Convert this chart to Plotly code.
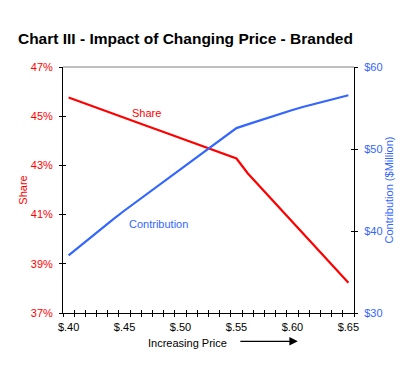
import plotly.graph_objects as go

price = [0.40, 0.41, 0.42, 0.43, 0.44, 0.45, 0.46, 0.47, 0.48, 0.49, 0.50, 0.51, 0.52,
         0.53, 0.54, 0.55, 0.56, 0.57, 0.58, 0.59, 0.60, 0.61, 0.62, 0.63, 0.64, 0.65]
share = [45.76, 45.59, 45.43, 45.26, 45.10, 44.93, 44.77, 44.60, 44.44, 44.27, 44.11, 43.94, 43.78,
         43.61, 43.45, 43.28, 42.68, 42.19, 41.69, 41.20, 40.70, 40.21, 39.71, 39.22, 38.72, 38.23]
contribution = [37.04, 38.15, 39.30, 40.40, 41.45, 42.50, 43.50, 44.50, 45.55, 46.55, 47.55, 48.55, 49.55,
                50.55, 51.55, 52.55, 53.00, 53.45, 53.90, 54.35, 54.75, 55.15, 55.50, 55.85, 56.20, 56.55]

x_label_vals = [0.40, 0.45, 0.50, 0.55, 0.60, 0.65]
x_label_text = ["$.40", "$.45", "$.50", "$.55", "$.60", "$.65"]
x_tick_vals = [round(0.395 + 0.01 * k, 3) for k in range(27)]
share_ticks = [37, 39, 41, 43, 45, 47]
share_text = ["37%", "39%", "41%", "43%", "45%", "47%"]
contrib_ticks = [30, 40, 50, 60]
contrib_text = ["$30", "$40", "$50", "$60"]

RED = "#FF0000"
BLUE = "#3366FF"
FONT = "Liberation Sans, Arial, sans-serif"
XR = [0.395, 0.655]

fig = go.Figure()
fig.add_trace(go.Scatter(x=price, y=share, mode="lines", line=dict(color=RED, width=2.2),
                         xaxis="x", yaxis="y", showlegend=False, hoverinfo="skip"))
fig.add_trace(go.Scatter(x=price, y=contribution, mode="lines", line=dict(color=BLUE, width=2.2),
                         xaxis="x", yaxis="y2", showlegend=False, hoverinfo="skip"))
# dummy traces to hold tick-only overlay axes
for xa, ya in [("x2", "y3"), ("x3", "y4"), ("x2", "y5")]:
    fig.add_trace(go.Scatter(x=[None], y=[None], xaxis=xa, yaxis=ya, showlegend=False, hoverinfo="skip"))

fig.update_layout(
    width=415, height=378,
    margin=dict(l=55.3, r=68.7, t=58.7, b=73.3, pad=0),
    paper_bgcolor="white", plot_bgcolor="white",
    font=dict(family=FONT, size=11, color="black"),
    title=dict(text="<b>Chart III - Impact of Changing Price - Branded</b>",
               x=0.024, xanchor="left", y=0.918, yanchor="middle",
               font=dict(family=FONT, size=15.5, color="black")),
    xaxis=dict(range=XR, tickvals=x_label_vals, ticktext=x_label_text, ticks="",
               showline=True, linecolor="black", linewidth=1, showgrid=False, zeroline=False,
               tickfont=dict(size=11, color="black"), ticklabelstandoff=4),
    xaxis2=dict(range=XR, overlaying="x", anchor="y", tickvals=x_tick_vals, ticks="outside",
                ticklen=3, tickcolor="black", showticklabels=False, showline=False,
                showgrid=False, zeroline=False),
    xaxis3=dict(range=XR, overlaying="x", anchor="y", tickvals=x_tick_vals, ticks="inside",
                ticklen=3, tickcolor="black", showticklabels=False, showline=False,
                showgrid=False, zeroline=False),
    yaxis=dict(range=[37, 47], tickvals=share_ticks, ticktext=share_text, ticks="outside",
               ticklen=3, tickcolor="black", showline=True, linecolor="black", linewidth=1,
               showgrid=False, zeroline=False, tickfont=dict(size=11, color=RED),
               ticklabelstandoff=4,
               title=dict(text="Share", font=dict(size=11, color=RED), standoff=0)),
    yaxis2=dict(range=[30, 60], tickvals=contrib_ticks, ticktext=contrib_text, ticks="outside",
                ticklen=3, tickcolor="black", overlaying="y", side="right", anchor="x",
                showline=True, linecolor="black", linewidth=1, showgrid=False, zeroline=False,
                tickfont=dict(size=11, color=BLUE), ticklabelstandoff=4,
                title=dict(text="Contribution ($Million)", font=dict(size=11, color=BLUE), standoff=3)),
    yaxis3=dict(range=[37, 47], tickvals=share_ticks, ticks="inside", ticklen=3, tickcolor="black",
                overlaying="y", anchor="x2", side="left", showticklabels=False, showline=False,
                showgrid=False, zeroline=False),
    yaxis4=dict(range=[30, 60], tickvals=contrib_ticks, ticks="inside", ticklen=3, tickcolor="black",
                overlaying="y", anchor="x3", side="right", showticklabels=False, showline=False,
                showgrid=False, zeroline=False),
    yaxis5=dict(range=[30, 60], overlaying="y", anchor="x2", side="left", showticklabels=False,
                showline=False, showgrid=False, zeroline=False, ticks=""),
)

fig.add_shape(type="line", xref="paper", yref="paper", x0=0, x1=1, y0=1, y1=1,
              line=dict(color="#808080", width=1))

fig.add_annotation(text="Share", x=0.47, y=45.12, xref="x", yref="y", showarrow=False,
                   font=dict(size=11, color=RED))
fig.add_annotation(text="Contribution", x=0.48, y=40.63, xref="x", yref="y", showarrow=False,
                   font=dict(size=11, color=BLUE))
fig.add_annotation(text="Increasing Price", x=0.428, y=-0.123, xref="paper", yref="paper",
                   xanchor="center", yanchor="middle",
                   showarrow=False, font=dict(size=11, color="black"))
fig.add_annotation(text="", x=0.807, y=-0.115, xref="paper", yref="paper",
                   ax=-59, ay=0, axref="pixel", ayref="pixel", showarrow=True,
                   arrowhead=2, arrowsize=1.3, arrowwidth=1.3, arrowcolor="black")

fig.write_html("out.html")
